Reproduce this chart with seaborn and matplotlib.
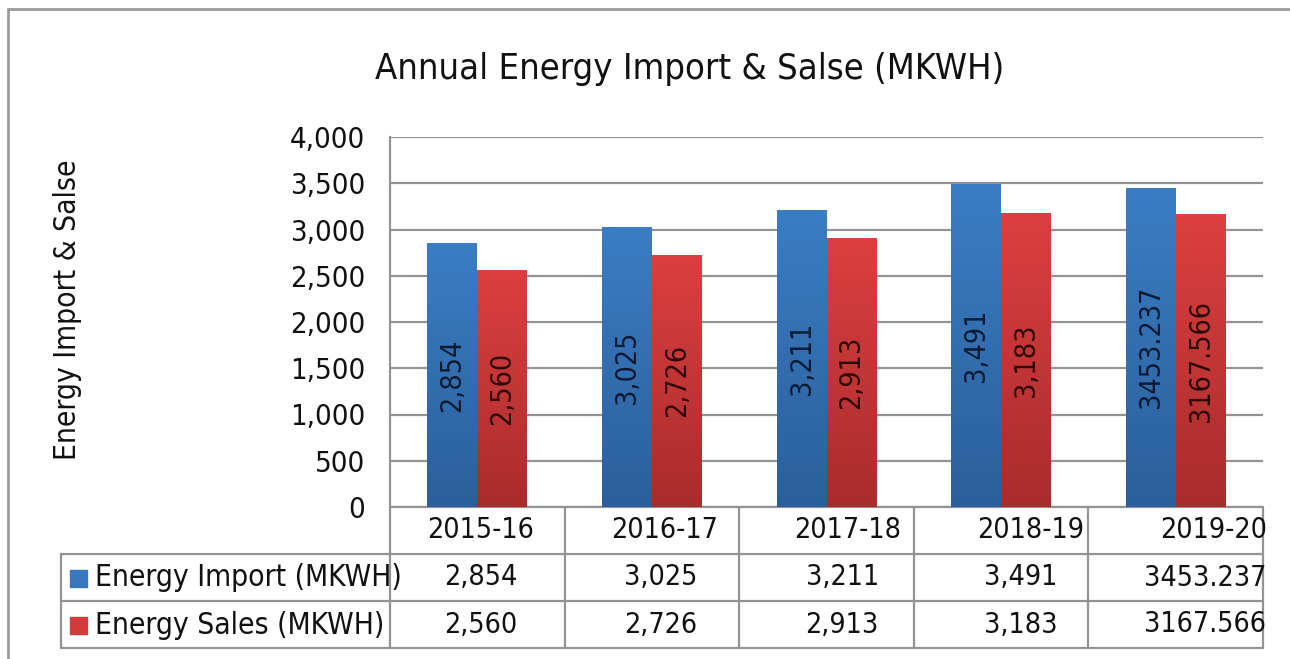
import numpy as np
import pandas as pd
import matplotlib
matplotlib.use("Agg")
from matplotlib import pyplot as plt
from matplotlib import font_manager
from matplotlib.colors import LinearSegmentedColormap
import seaborn as sns

# data
years = ["2015-16", "2016-17", "2017-18", "2018-19", "2019-20"]
energy_import = [2854, 3025, 3211, 3491, 3453.237]
energy_sales = [2560, 2726, 2913, 3183, 3167.566]
import_text = ["2,854", "3,025", "3,211", "3,491", "3453.237"]
sales_text = ["2,560", "2,726", "2,913", "3,183", "3167.566"]
series = ["Energy Import (MKWH)", "Energy Sales (MKWH)"]

df = pd.DataFrame({
    "year": years * 2,
    "series": [series[0]] * 5 + [series[1]] * 5,
    "value": energy_import + energy_sales,
})

sns.set_style("white")
plt.rcParams["font.family"] = ["DejaVu Sans"]
# Tahoma-like look: use the condensed cut if it is there
if any(f.name == "DejaVu Sans" and "condensed" in str(f.stretch) for f in font_manager.fontManager.ttflist):
    plt.rcParams["font.stretch"] = "condensed"

W, H = 1290, 659
fig = plt.figure(figsize=(W / 100, H / 100), dpi=100)
# plot area in pixels: x 390..1263, y 137..507
ax = fig.add_axes([390 / W, 1 - 507 / H, (1263 - 390) / W, (507 - 137) / H])

blue = "#3677bd"
red = "#d43a3a"
sns.barplot(data=df, x="year", y="value", hue="series", order=years,
            palette=[blue, red], width=0.572, saturation=1, ax=ax,
            legend=False, linewidth=0, zorder=3)

ax.set_xlim(-0.5, 4.5)
ax.set_ylim(0, 4000)
ax.set_yticks(range(0, 4001, 500))
ax.set_yticklabels([f"{v:,}" for v in range(0, 4001, 500)], fontsize=21, color="#111111")
ax.tick_params(axis="y", length=0, pad=18)
ax.set_xticks([])
ax.set_xlabel("")
ax.set_ylabel("")
ax.grid(axis="y", color="#939393", linewidth=1.6, zorder=0)
for s in ["top", "right", "bottom"]:
    ax.spines[s].set_visible(False)
ax.spines["left"].set_color("#939393")
ax.spines["left"].set_linewidth(1.6)

# shade the bars darker toward the bottom like the Excel gradient
grad = np.linspace(0, 1, 100).reshape(-1, 1)
shades = {blue: ("#2b5f9c", "#3a7dc3"), red: ("#a92c2c", "#dc3f3f")}
for bar in ax.patches:
    fc = matplotlib.colors.to_hex(bar.get_facecolor())
    lo, hi = shades[blue] if fc == blue else shades[red]
    cm = LinearSegmentedColormap.from_list("g", [lo, hi])
    x0, y0 = bar.get_x(), bar.get_y()
    im = ax.imshow(grad, cmap=cm, extent=[x0, x0 + bar.get_width(), y0, y0 + bar.get_height()],
                   origin="lower", aspect="auto", zorder=3.5)
    im.set_clip_path(bar)
ax.set_xlim(-0.5, 4.5)
ax.set_ylim(0, 4000)

# values written up the middle of each bar
bw = 0.286
for i in range(len(years)):
    ax.text(i - bw / 2, energy_import[i] / 2, import_text[i], rotation=90, ha="center", va="center",
            fontsize=20.5, color="#0c1a33", zorder=5)
    ax.text(i + bw / 2, energy_sales[i] / 2, sales_text[i], rotation=90, ha="center", va="center",
            fontsize=20.5, color="#2b0808", zorder=5)

# data table under the plot
tr = ax.get_xaxis_transform()
row_h = 47 / 370
left = -0.5 - (390 - 60) / 175
line_kw = dict(color="#939393", linewidth=1.6, transform=tr, clip_on=False)
ax.plot([-0.5, 4.5], [0, 0], **line_kw)
for k in (1, 2, 3):
    ax.plot([left, 4.5], [-k * row_h, -k * row_h], **line_kw)
for xb in np.arange(-0.5, 5.0, 1.0):
    ax.plot([xb, xb], [0, -3 * row_h], **line_kw)
ax.plot([left, left], [-row_h, -3 * row_h], **line_kw)

# text in the cells sits a little right of centre, more so to the right
year_shift = [0.02, 0.07, 0.12, 0.17, 0.22]
value_shift = [0.02, 0.05, 0.09, 0.11, 0.17]
for i, y in enumerate(years):
    ax.text(i + year_shift[i], -0.5 * row_h, y, ha="center", va="center", fontsize=20.5,
            transform=tr, color="#111111")
    ax.text(i + value_shift[i], -1.5 * row_h, import_text[i], ha="center", va="center", fontsize=20.5,
            transform=tr, color="#111111")
    ax.text(i + value_shift[i], -2.5 * row_h, sales_text[i], ha="center", va="center", fontsize=20.5,
            transform=tr, color="#111111")

for k, (name, col) in enumerate(zip(series, [blue, red])):
    yc = 1 - (578 + k * 47) / H
    fig.patches.append(plt.Rectangle((70 / W, yc - 8.5 / H), 17 / W, 17 / H, color=col,
                                     transform=fig.transFigure))
    fig.text(95 / W, yc, name, ha="left", va="center", fontsize=21.5, color="#111111")

# titles
fig.text(690 / W, 1 - 69 / H, "Annual Energy Import & Salse (MKWH)", ha="center", va="center",
         fontsize=26, color="#111111")
fig.text(68 / W, 1 - 310 / H, "Energy Import & Salse", rotation=90, ha="center", va="center",
         fontsize=21.5, color="#111111")

# outer chart border (cut at right and bottom)
fig.add_artist(plt.Line2D([8 / W, 1], [1 - 9 / H, 1 - 9 / H], color="#9a9a9a", linewidth=2,
                          transform=fig.transFigure))
fig.add_artist(plt.Line2D([8 / W, 8 / W], [0, 1 - 9 / H], color="#9a9a9a", linewidth=2,
                          transform=fig.transFigure))

fig.savefig("out.png", dpi=100)
